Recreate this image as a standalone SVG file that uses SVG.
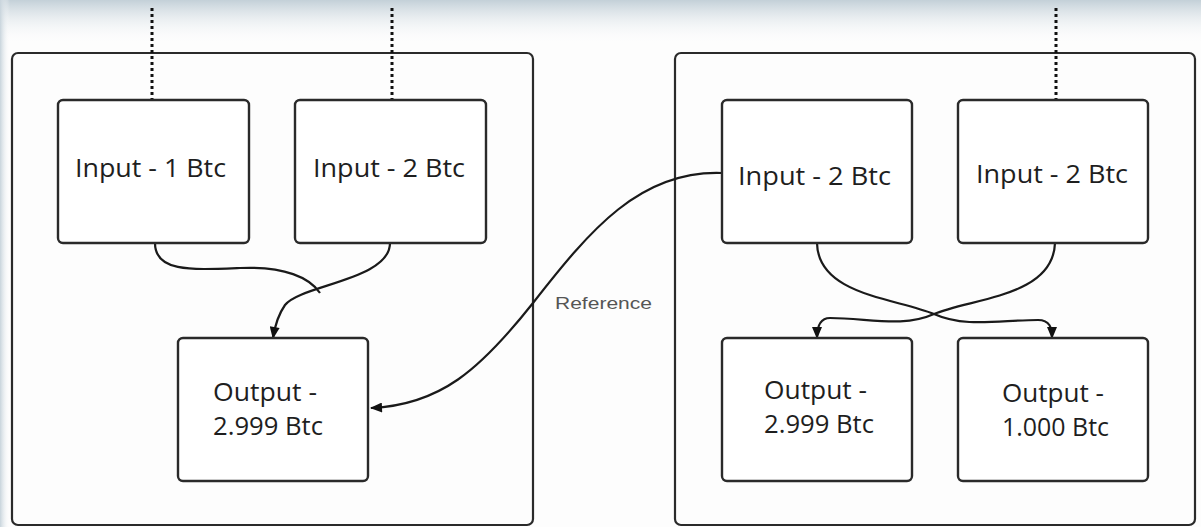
<svg xmlns="http://www.w3.org/2000/svg" width="1201" height="527" viewBox="0 0 1201 527">
  <style>
    .container { fill: none; stroke: #2a2a2a; stroke-width: 2.2; }
    .box { fill: #ffffff; stroke: #2a2a2a; stroke-width: 2.4; }
    .label { font-family: "Open Sans", "Noto Sans", sans-serif; font-size: 26px; fill: #1e1e1e; }
    .conn { fill: none; stroke: #1a1a1a; stroke-width: 2.2; }
    .dotted { fill: none; stroke: #111; stroke-width: 3; stroke-dasharray: 3 3; }
    .edge-label { font-family: "Liberation Sans", Arial, sans-serif; font-size: 16px; fill: #555; }
  </style>
  <defs>
    <linearGradient id="topGrad" x1="0" y1="0" x2="0" y2="1">
      <stop offset="0" stop-color="#c3d0d8"/>
      <stop offset="1" stop-color="#ffffff" stop-opacity="0"/>
    </linearGradient>
    <linearGradient id="leftGrad" x1="0" y1="0" x2="1" y2="0">
      <stop offset="0" stop-color="#c8d4dc"/>
      <stop offset="1" stop-color="#ffffff" stop-opacity="0"/>
    </linearGradient>
    <marker id="arrow" viewBox="0 0 12 10" refX="11" refY="5" markerWidth="13" markerHeight="10" markerUnits="userSpaceOnUse" orient="auto">
      <path d="M0,0 L12,5 L0,10 z" fill="#111"/>
    </marker>
  </defs>

  <rect x="0" y="0" width="1201" height="527" fill="#fdfdfd"/>
  <rect x="0" y="0" width="1201" height="45" fill="url(#topGrad)"/>
  <rect x="0" y="0" width="10" height="527" fill="url(#leftGrad)"/>

  <g id="container-left">
    <rect class="container" x="12" y="53" width="521" height="472" rx="6"/>
  </g>
  <g id="container-right">
    <rect class="container" x="675" y="53" width="520" height="472" rx="6"/>
  </g>

  <g id="connectors">
    <path class="dotted" d="M152,8 V100"/>
    <path class="dotted" d="M392,8 V100"/>
    <path class="dotted" d="M1056,8 V100"/>
    <path class="conn" d="M155,243 C155,272 190,270 240,268 C285,266 310,278 320,293"/>
    <path class="conn" d="M390,243 C390,280 300,285 285,305 C278,315 275,325 273,338" marker-end="url(#arrow)"/>
    <path class="conn" d="M722,173 C640,170 590,230 533,303 C480,370 440,405 371,408" marker-end="url(#arrow)"/>
    <path class="conn" d="M817,243 C818,295 895,298 934,314 C965,328 1000,320 1038,320 C1050,320 1052,328 1052,338" marker-end="url(#arrow)"/>
    <path class="conn" d="M1055,243 C1053,297 972,298 934,314 C903,328 868,318 830,318 C819,318 817,328 817,338" marker-end="url(#arrow)"/>
    <text class="edge-label" x="555" y="309" textLength="97" lengthAdjust="spacingAndGlyphs">Reference</text>
  </g>

  <g id="input-1btc">
    <rect class="box" x="58" y="100" width="191" height="143" rx="5"/>
    <text class="label" x="75" y="177" textLength="151" lengthAdjust="spacingAndGlyphs">Input - 1 Btc</text>
  </g>
  <g id="input-2btc-left">
    <rect class="box" x="295" y="100" width="191" height="143" rx="5"/>
    <text class="label" x="313" y="177" textLength="152" lengthAdjust="spacingAndGlyphs">Input - 2 Btc</text>
  </g>
  <g id="output-2999-left">
    <rect class="box" x="178" y="338" width="190" height="143" rx="5"/>
    <text class="label" x="213" y="401" textLength="104" lengthAdjust="spacingAndGlyphs">Output -</text>
    <text class="label" x="213" y="435" textLength="110" lengthAdjust="spacingAndGlyphs">2.999 Btc</text>
  </g>
  <g id="input-2btc-right-a">
    <rect class="box" x="722" y="100" width="190" height="143" rx="5"/>
    <text class="label" x="738" y="185" textLength="153" lengthAdjust="spacingAndGlyphs">Input - 2 Btc</text>
  </g>
  <g id="input-2btc-right-b">
    <rect class="box" x="958" y="100" width="190" height="143" rx="5"/>
    <text class="label" x="976" y="183" textLength="152" lengthAdjust="spacingAndGlyphs">Input - 2 Btc</text>
  </g>
  <g id="output-2999-right">
    <rect class="box" x="722" y="338" width="190" height="143" rx="5"/>
    <text class="label" x="764" y="399" textLength="103" lengthAdjust="spacingAndGlyphs">Output -</text>
    <text class="label" x="764" y="433" textLength="110" lengthAdjust="spacingAndGlyphs">2.999 Btc</text>
  </g>
  <g id="output-1000-right">
    <rect class="box" x="958" y="338" width="190" height="143" rx="5"/>
    <text class="label" x="1002" y="402" textLength="102" lengthAdjust="spacingAndGlyphs">Output -</text>
    <text class="label" x="1002" y="436" textLength="107" lengthAdjust="spacingAndGlyphs">1.000 Btc</text>
  </g>
</svg>
